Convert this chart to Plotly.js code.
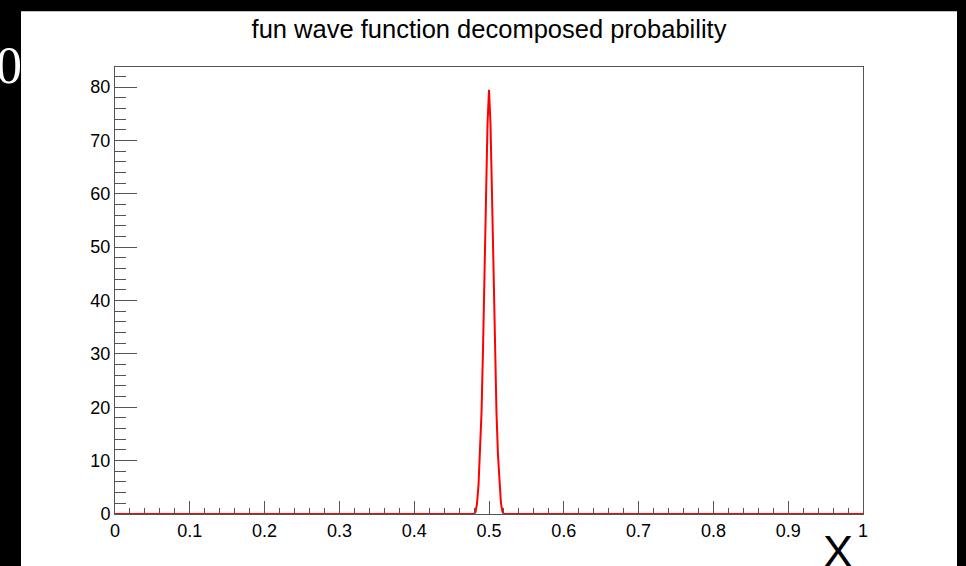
<!DOCTYPE html>
<html>
<head>
<meta charset="utf-8">
<script src="https://cdn.plot.ly/plotly-3.0.1.min.js"></script>
<style>
  html, body { margin: 0; padding: 0; background: #000; }
  #chart { width: 966px; height: 566px; }
</style>
</head>
<body>
<div id="chart"></div>
<script>
// Curve samples (x, probability density)
const xValues = [0, 0.1, 0.2, 0.3, 0.4, 0.46, 0.48, 0.482, 0.484, 0.486, 0.488, 0.49, 0.492, 0.494, 0.496, 0.498, 0.5,
                 0.502, 0.504, 0.506, 0.508, 0.51, 0.512, 0.514, 0.516, 0.518, 0.52, 0.54, 0.6, 0.7, 0.8, 0.9, 1];
const yValues = [0, 0, 0, 0, 0, 0, 0, 0.4, 2, 5.5, 11, 19, 31, 45, 60, 73, 79.5,
                 73, 60, 45, 31, 19, 11, 5.5, 2, 0.4, 0, 0, 0, 0, 0, 0, 0];

const titleText = 'fun wave function decomposed probability';
const xAxisLabel = 'X';
const cornerLabel = '0';

const axisColor = '#555555';
const labelFont = { family: 'Liberation Sans, Arial, sans-serif', size: 18, color: '#000' };

const trace = {
  x: xValues,
  y: yValues,
  type: 'scatter',
  mode: 'lines',
  line: { color: '#ff0000', width: 2 },
  hoverinfo: 'skip'
};

const layout = {
  width: 966,
  height: 566,
  margin: { l: 115, r: 103, t: 67, b: 52, pad: 0 },
  paper_bgcolor: '#000',
  plot_bgcolor: '#fff',
  showlegend: false,
  title: {
    text: titleText,
    font: { family: 'Liberation Sans, Arial, sans-serif', size: 25.5, color: '#000' },
    xref: 'paper', x: 0.5, xanchor: 'center',
    yref: 'container', y: 1 - 29 / 566, yanchor: 'middle'
  },
  xaxis: {
    range: [0, 1],
    tickmode: 'linear', tick0: 0, dtick: 0.1,
    ticks: 'inside', ticklen: 13, tickwidth: 1, tickcolor: axisColor,
    minor: { dtick: 0.02, tick0: 0, ticks: 'inside', ticklen: 6.5, tickwidth: 1, tickcolor: axisColor, showgrid: false },
    showline: true, linecolor: axisColor, linewidth: 1, mirror: true,
    showgrid: false, zeroline: false,
    tickfont: labelFont,
    fixedrange: true
  },
  yaxis: {
    range: [0, 83.75],
    tickmode: 'linear', tick0: 0, dtick: 10,
    ticks: 'inside', ticklen: 22, tickwidth: 1, tickcolor: axisColor,
    minor: { dtick: 2, tick0: 0, ticks: 'inside', ticklen: 11, tickwidth: 1, tickcolor: axisColor, showgrid: false },
    showline: true, linecolor: axisColor, linewidth: 1, mirror: true,
    showgrid: false, zeroline: false,
    tickfont: labelFont,
    ticklabelstandoff: 0,
    fixedrange: true
  },
  shapes: [
    {
      type: 'rect', layer: 'below',
      xref: 'paper', yref: 'paper',
      x0: (21 - 115) / 748, x1: (957 - 115) / 748,
      y0: (514 - 566) / 447.3, y1: (514 - 11) / 447.3,
      fillcolor: '#fff', line: { width: 0 }
    }
  ],
  annotations: [
    {
      text: cornerLabel, showarrow: false,
      xref: 'paper', yref: 'paper',
      x: (9 - 115) / 748, xanchor: 'center',
      y: (514 - 65) / 447.3, yanchor: 'middle',
      font: { family: 'Liberation Serif, DejaVu Serif, serif', size: 52, color: '#fff' }
    },
    {
      text: xAxisLabel, showarrow: false,
      xref: 'paper', yref: 'paper',
      x: (838 - 115) / 748, xanchor: 'center',
      y: (514 - 524) / 447.3, yanchor: 'top',
      font: { family: 'Liberation Sans, Arial, sans-serif', size: 45, color: '#000' }
    }
  ]
};

Plotly.newPlot('chart', [trace], layout, { displayModeBar: false, staticPlot: true });
</script>
</body>
</html>
